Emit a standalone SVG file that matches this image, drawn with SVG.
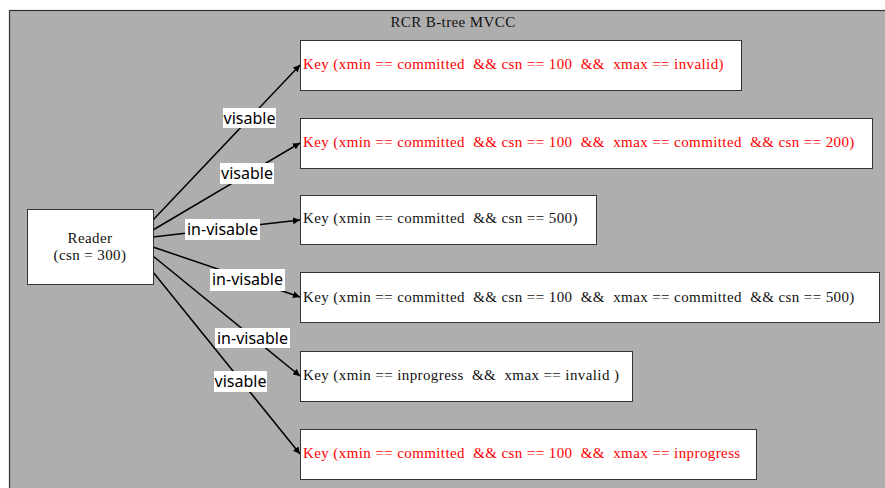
<svg xmlns="http://www.w3.org/2000/svg" width="885" height="488" viewBox="0 0 885 488">
<style>
.frame{fill:#aeaeae;stroke:#333;stroke-width:1.2}
.box{fill:#fff;stroke:#333;stroke-width:1}
.t{font-family:"Liberation Serif","Times New Roman",serif;font-size:15px;letter-spacing:0.4px;white-space:pre}
.red{fill:#ff0000}
.blk{fill:#111}
.conn{stroke:#000;stroke-width:1.5;fill:none;marker-end:url(#arr)}
.lb{fill:#fff}
.lt{font-family:"Noto Sans","Open Sans",sans-serif;font-size:16px;fill:#000;text-anchor:middle}
</style>
<defs>
<marker id="arr" viewBox="0 0 10 10" refX="10" refY="5" markerWidth="7" markerHeight="7" markerUnits="userSpaceOnUse" orient="auto">
<path d="M0,0 L10,5 L0,10 z" fill="#000"/>
</marker>
</defs>
<rect class="frame" x="9.5" y="10.5" width="880" height="490"/>
<text class="t blk" x="453" y="27" text-anchor="middle">RCR B-tree MVCC</text>
<g id="connectors">
<line class="conn" x1="153" y1="220" x2="300" y2="65"/>
<line class="conn" x1="153" y1="230" x2="300" y2="143"/>
<line class="conn" x1="153" y1="237" x2="300" y2="220"/>
<line class="conn" x1="153" y1="247" x2="300" y2="297"/>
<line class="conn" x1="153" y1="256" x2="300" y2="376"/>
<line class="conn" x1="153" y1="272" x2="300" y2="454"/>
<g id="labels">
<rect class="lb" x="223" y="108" width="53" height="20"/><text class="lt" x="249.5" y="124">visable</text>
<rect class="lb" x="220" y="163" width="54" height="21"/><text class="lt" x="247" y="179">visable</text>
<rect class="lb" x="185" y="219" width="75" height="21"/><text class="lt" x="222.5" y="235">in-visable</text>
<rect class="lb" x="210" y="269" width="75" height="22"/><text class="lt" x="247.5" y="285">in-visable</text>
<rect class="lb" x="215" y="328" width="75" height="20"/><text class="lt" x="252.5" y="344">in-visable</text>
<rect class="lb" x="214" y="371" width="53" height="21"/><text class="lt" x="240.5" y="387">visable</text>
</g>
</g>
<g id="reader">
<rect class="box" x="27.5" y="209.5" width="126" height="75"/>
<text class="t blk" x="90" y="243" text-anchor="middle">Reader</text>
<text class="t blk" x="90" y="260" text-anchor="middle">(csn = 300)</text>
</g>
<g id="key1">
<rect class="box" x="300.5" y="40.5" width="441" height="50"/>
<text class="t red" x="303" y="69">Key (xmin == committed  &amp;&amp; csn == 100  &amp;&amp;  xmax == invalid)</text>
</g>
<g id="key2">
<rect class="box" x="300.5" y="118.5" width="572" height="50"/>
<text class="t red" x="303" y="147">Key (xmin == committed  &amp;&amp; csn == 100  &amp;&amp;  xmax == committed  &amp;&amp; csn == 200)</text>
</g>
<g id="key3">
<rect class="box" x="300.5" y="195.5" width="296" height="49"/>
<text class="t blk" x="303" y="223">Key (xmin == committed  &amp;&amp; csn == 500)</text>
</g>
<g id="key4">
<rect class="box" x="300.5" y="272.5" width="579" height="50"/>
<text class="t blk" x="303" y="302">Key (xmin == committed  &amp;&amp; csn == 100  &amp;&amp;  xmax == committed  &amp;&amp; csn == 500)</text>
</g>
<g id="key5">
<rect class="box" x="300.5" y="351.5" width="332" height="50"/>
<text class="t blk" x="303" y="380">Key (xmin == inprogress  &amp;&amp;  xmax == invalid )</text>
</g>
<g id="key6">
<rect class="box" x="300.5" y="429.5" width="456" height="50"/>
<text class="t red" x="303" y="458">Key (xmin == committed  &amp;&amp; csn == 100  &amp;&amp;  xmax == inprogress</text>
</g>
</svg>
